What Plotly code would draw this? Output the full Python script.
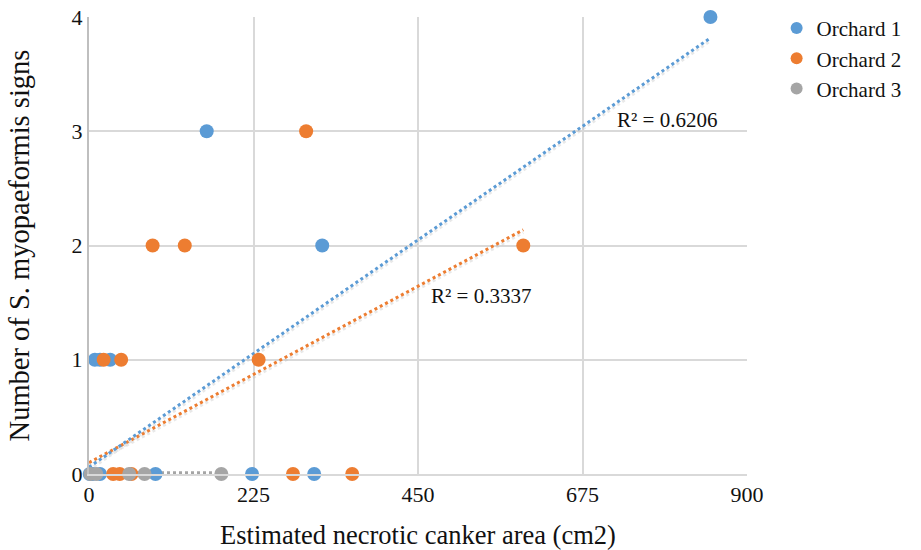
import plotly.graph_objects as go
import numpy as np

# Orchard data (estimated canker area cm2, number of signs)
o1_x = [1, 5, 15, 91, 223, 308, 8, 15, 29, 161, 319, 850]
o1_y = [0, 0, 0, 0, 0, 0, 1, 1, 1, 3, 2, 4]
o2_x = [33, 42, 58, 279, 360, 20, 44, 232, 87, 131, 594, 297]
o2_y = [0, 0, 0, 0, 0, 1, 1, 1, 2, 2, 2, 3]
o3_x = [2, 10, 55, 76, 181]
o3_y = [0, 0, 0, 0, 0]

# Trendline coefficients (intercept, slope, x-extent)
t1 = dict(b=0.06, m=0.00442, x0=0, x1=850)
t2 = dict(b=0.10, m=0.00343, x0=0, x1=594)
t3 = dict(b=0.01, m=0.0, x0=0, x1=181)

r2_labels = ["R² = 0.6206", "R² = 0.3337"]

blue = "#5b9bd5"
orange = "#ed7d31"
gray = "#a5a5a5"
font = "Liberation Serif"

fig = go.Figure()

def trend(t, color):
    xs = np.array([t["x0"], t["x1"]], dtype=float)
    ys = t["b"] + t["m"] * xs
    fig.add_trace(go.Scatter(x=xs, y=ys - 0.025, mode="lines", showlegend=False, hoverinfo="skip",
                             line=dict(color="rgba(190,190,190,0.35)", width=3, dash="dot"), cliponaxis=False))
    fig.add_trace(go.Scatter(x=xs, y=ys, mode="lines", showlegend=False, hoverinfo="skip",
                             line=dict(color=color, width=3, dash="dot"), cliponaxis=False))

trend(t3, gray)
trend(t2, orange)
trend(t1, blue)

for name, xs, ys, c in [("Orchard 1", o1_x, o1_y, blue), ("Orchard 2", o2_x, o2_y, orange), ("Orchard 3", o3_x, o3_y, gray)]:
    fig.add_trace(go.Scatter(x=xs, y=ys, mode="markers", name=name, cliponaxis=False,
                             marker=dict(color=c, size=14, line=dict(width=0))))

fig.add_annotation(x=720, y=3.1, text=r2_labels[0], showarrow=False, xanchor="left", yanchor="middle",
                   xref="x", yref="y", font=dict(family=font, size=21, color="#111"))
fig.add_annotation(x=465, y=1.56, text=r2_labels[1], showarrow=False, xanchor="left", yanchor="middle",
                   xref="x", yref="y", font=dict(family=font, size=21, color="#111"))

fig.update_layout(
    width=921, height=550,
    margin=dict(l=89, r=174, t=17, b=76, autoexpand=False),
    paper_bgcolor="white", plot_bgcolor="white",
    font=dict(family=font, size=20, color="#111"),
    legend=dict(x=1.045, y=1.02, xanchor="left", yanchor="top", font=dict(family=font, size=21),
                itemsizing="constant", tracegroupgap=0, bgcolor="rgba(0,0,0,0)"),
    xaxis=dict(range=[0, 900], tickvals=[0, 225, 450, 675, 900], showgrid=True, gridcolor="#d9d9d9", gridwidth=2,
               zeroline=False, showline=True, linecolor="#d9d9d9", linewidth=2, ticks="", automargin=False,
               tickfont=dict(family=font, size=22, color="#111"),
               title=dict(text="Estimated necrotic canker area (cm2)", font=dict(family=font, size=26.5), standoff=19)),
    yaxis=dict(range=[0, 4], tickvals=[0, 1, 2, 3, 4], showgrid=True, gridcolor="#d9d9d9", gridwidth=2,
               zeroline=False, showline=True, linecolor="#bfbfbf", linewidth=2, ticks="", automargin=False,
               tickfont=dict(family=font, size=22, color="#111"),
               title=dict(text="Number of S. myopaeformis signs", font=dict(family=font, size=28.5), standoff=34)),
)

fig.write_html("out.html")
